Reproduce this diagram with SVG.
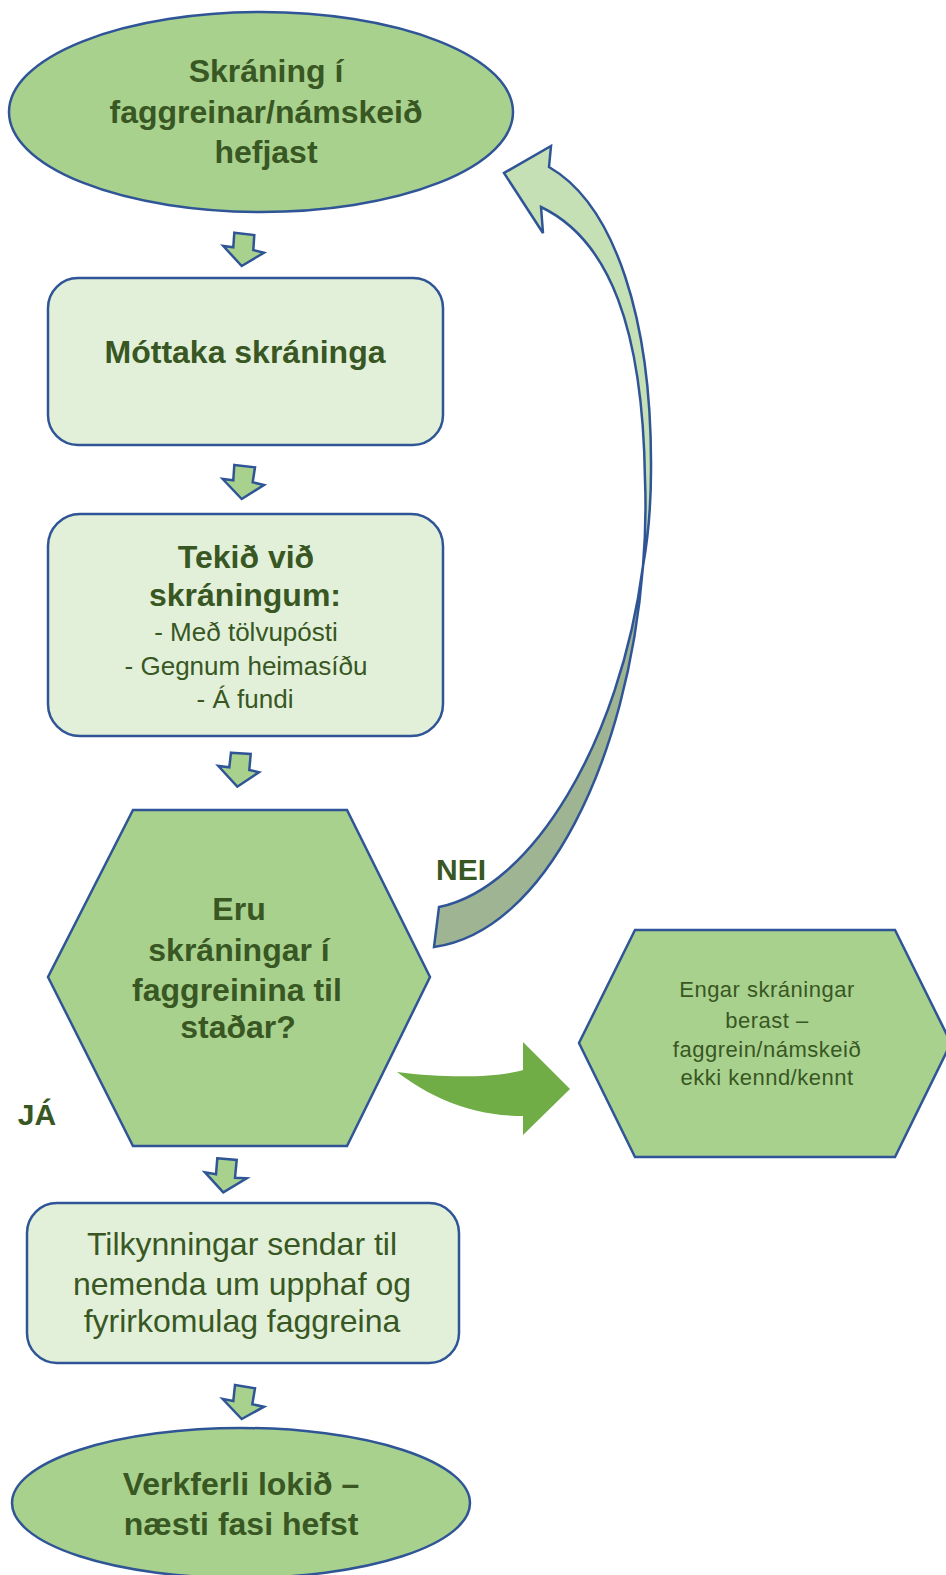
<svg xmlns="http://www.w3.org/2000/svg" width="946" height="1575" viewBox="0 0 946 1575">
<style>
.sh{stroke:#2F5597;stroke-width:2.5;stroke-linejoin:miter}
.mid{fill:#A9D18E}
.lt{fill:#E2F0D9}
.t{font-family:"Liberation Sans",Arial,sans-serif;fill:#385723;text-anchor:middle}
.b{font-weight:bold;font-size:32px}
.r26{font-size:26px}
.r32{font-size:32px}
.r21{font-size:22px;letter-spacing:0.5px}
.lbl{font-family:"Liberation Sans",Arial,sans-serif;fill:#385723;font-weight:bold;font-size:30px}
</style>
<rect width="946" height="1575" fill="#FFFFFF"/>

<g id="connectors">
  <polygon class="sh mid" points="234.3,232.7 254.3,235 253.3,250 264,252.7 241.7,266 223.3,246 233.3,247.3"/>
  <polygon class="sh mid" points="234.3,465 255,467.3 252.7,482.3 264,485 241.7,499 222.7,479 233.3,480.3"/>
  <polygon class="sh mid" points="231,752.7 250.7,754 249.3,770 259,772.3 237.3,786.7 218.3,766 229.3,767.3"/>
  <polygon class="sh mid" points="217.3,1158.3 236.7,1160 235,1177.7 246.7,1178.3 223.3,1192.3 205,1172.3 216,1174.3"/>
  <polygon class="sh mid" points="235,1385 255,1388.3 252.3,1404.3 264,1406.7 241.7,1419 222.7,1399 233.3,1401"/>
  <g id="nei-arrow">
    <path class="sh" fill="#9FB493" d="M643,566 C628,760 545,932 434,947 L439,907 C532,888 620,742 643,566 Z"/>
    <path class="sh" fill="#C5E0B4" d="M549,167 C615,205 652,320 651,470 C651,505 648,538 643,566 C646,530 646,505 645,480 C643,330 610,240 541,207 L543,233 L504,173 L551,146 Z"/>
  </g>
  <path id="ja-arrow" fill="#70AD47" d="M397,1072 C450,1079 500,1077 523,1070 L523,1042 L570,1089 L523,1135 L523,1116 C470,1116 430,1097 397,1072 Z"/>
  <text class="lbl" x="461" y="880" text-anchor="middle">NEI</text>
  <text class="lbl" x="37" y="1125" text-anchor="middle">JÁ</text>
</g>

<g id="start">
  <ellipse class="sh mid" cx="261" cy="112" rx="252" ry="100"/>
  <text class="t b" x="266" y="82">Skráning í</text>
  <text class="t b" x="266" y="123">faggreinar/námskeið</text>
  <text class="t b" x="266" y="163">hefjast</text>
</g>

<g id="mottaka">
  <rect class="sh lt" x="48" y="278" width="395" height="167" rx="30"/>
  <text class="t b" x="245" y="363">Móttaka skráninga</text>
</g>

<g id="tekid">
  <rect class="sh lt" x="48" y="514" width="395" height="222" rx="32"/>
  <text class="t b" x="246" y="568">Tekið við</text>
  <text class="t b" x="245" y="606">skráningum:</text>
  <text class="t r26" x="246" y="641">- Með tölvupósti</text>
  <text class="t r26" x="246" y="675">- Gegnum heimasíðu</text>
  <text class="t r26" x="245" y="708">- Á fundi</text>
</g>

<g id="decision">
  <polygon class="sh mid" points="133,810 347,810 430,977 347,1146 133,1146 48,977"/>
  <text class="t b" x="239" y="920">Eru</text>
  <text class="t b" x="239" y="961">skráningar í</text>
  <text class="t b" x="237" y="1001">faggreinina til</text>
  <text class="t b" x="238" y="1038">staðar?</text>
</g>

<g id="engar">
  <polygon class="sh mid" points="635,930 895,930 951,1043 895,1157 635,1157 579,1043"/>
  <text class="t r21" x="767" y="997">Engar skráningar</text>
  <text class="t r21" x="767" y="1028">berast –</text>
  <text class="t r21" x="767" y="1057">faggrein/námskeið</text>
  <text class="t r21" x="767" y="1085">ekki kennd/kennt</text>
</g>

<g id="tilkynningar">
  <rect class="sh lt" x="27" y="1203" width="432" height="160" rx="30"/>
  <text class="t r32" x="242" y="1255">Tilkynningar sendar til</text>
  <text class="t r32" x="242" y="1295">nemenda um upphaf og</text>
  <text class="t r32" x="242" y="1332">fyrirkomulag faggreina</text>
</g>

<g id="end">
  <ellipse class="sh mid" cx="241" cy="1503" rx="229" ry="75"/>
  <text class="t b" x="241" y="1495">Verkferli lokið –</text>
  <text class="t b" x="241" y="1535">næsti fasi hefst</text>
</g>
</svg>
